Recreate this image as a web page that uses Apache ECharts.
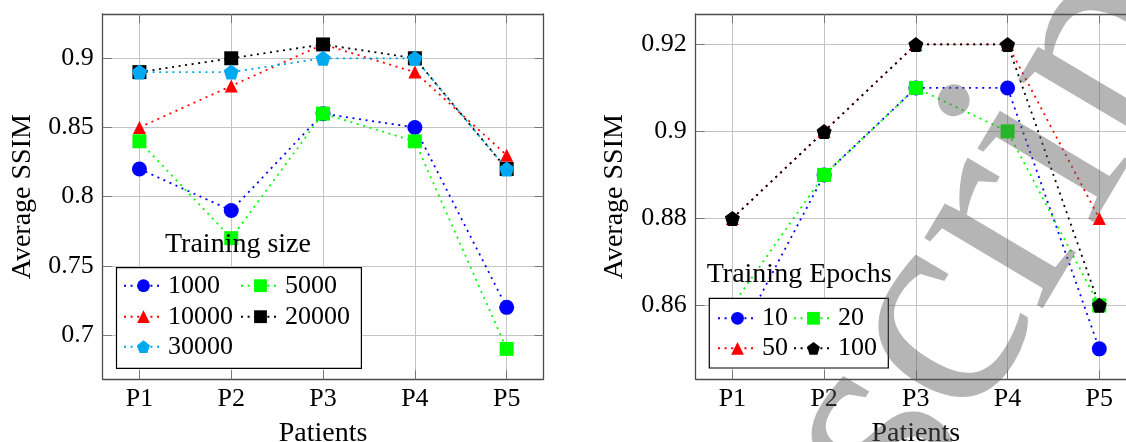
<!DOCTYPE html>
<html>
<head>
<meta charset="utf-8">
<script src="https://cdn.jsdelivr.net/npm/echarts@6/dist/echarts.min.js"></script>
<style>
  html, body { margin: 0; padding: 0; background: #fff; }
  #chart { width: 1126px; height: 442px; }
</style>
</head>
<body>
<div id="chart"></div>
<script>
var patients = ['P1', 'P2', 'P3', 'P4', 'P5'];

// left panel: training size
var size1000 = [0.82, 0.79, 0.86, 0.85, 0.72];
var size5000 = [0.84, 0.77, 0.86, 0.84, 0.69];
var size10000 = [0.85, 0.88, 0.91, 0.89, 0.83];
var size20000 = [0.89, 0.90, 0.91, 0.90, 0.82];
var size30000 = [0.89, 0.89, 0.90, 0.90, 0.82];
var sizeTicks = [0.7, 0.75, 0.8, 0.85, 0.9];

// right panel: training epochs
var epoch10 = [0.85, 0.89, 0.91, 0.91, 0.85];
var epoch20 = [0.86, 0.89, 0.91, 0.90, 0.86];
var epoch50 = [0.88, 0.90, 0.92, 0.92, 0.88];
var epoch100 = [0.88, 0.90, 0.92, 0.92, 0.86];
var epochTicks = [0.86, 0.88, 0.9, 0.92];

var FONT = '"Liberation Serif", "DejaVu Serif", serif';
var FRAME = '#4d4d4d';
var GRIDC = '#c4c4c4';
var PENTAGON = 'path://M0,-1L0.951,-0.309L0.588,0.809L-0.588,0.809L-0.951,-0.309Z';
var xTicks = patients.map(function(p, i) { return i + 1; });

function toPoints(vals) {
  return vals.map(function(v, i) { return [i + 1, v]; });
}

function xAxes(gi) {
  var base = {
    type: 'value', gridIndex: gi, min: 0.6, max: 5.4,
    axisLine: { show: true, lineStyle: { color: FRAME, width: 1.3 } },
    axisTick: { show: true, inside: true, length: 9, customValues: xTicks, lineStyle: { color: '#777' } }
  };
  var bottom = echarts.util.merge({
    position: 'bottom',
    name: 'Patients', nameLocation: 'middle', nameGap: 40,
    nameTextStyle: { fontFamily: FONT, fontSize: 28, color: '#000' },
    axisLabel: {
      customValues: xTicks, margin: 7, fontFamily: FONT, fontSize: 26, color: '#000',
      formatter: function(v) { return patients[Math.round(v) - 1]; }
    },
    splitLine: { show: true, lineStyle: { color: GRIDC, width: 1 } }
  }, base, true);
  var top = echarts.util.merge({
    position: 'top', axisLabel: { show: false }, splitLine: { show: false }
  }, base, true);
  return [bottom, top];
}

function yAxes(gi, min, max, ticks, gap) {
  var base = {
    type: 'value', gridIndex: gi, min: min, max: max,
    axisLine: { show: true, lineStyle: { color: FRAME, width: 1.3 } },
    axisTick: { show: true, inside: true, length: 9, customValues: ticks, lineStyle: { color: '#777' } }
  };
  var left = echarts.util.merge({
    position: 'left',
    name: 'Average SSIM', nameLocation: 'middle', nameGap: gap, nameRotate: 90,
    nameTextStyle: { fontFamily: FONT, fontSize: 28, color: '#000' },
    axisLabel: {
      customValues: ticks, margin: 9, fontFamily: FONT, fontSize: 26, color: '#000',
      formatter: function(v) { return String(+v.toFixed(2)); }
    },
    splitLine: { show: true, lineStyle: { color: GRIDC, width: 1 } }
  }, base, true);
  var right = echarts.util.merge({
    position: 'right', axisLabel: { show: false }, splitLine: { show: false }
  }, base, true);
  return [left, right];
}

function line(name, vals, color, symbol, size, gi) {
  return {
    name: name, type: 'line', xAxisIndex: gi * 2, yAxisIndex: gi * 2,
    data: toPoints(vals),
    symbol: symbol, symbolSize: size, showAllSymbol: true,
    lineStyle: { color: color, width: 1.8, type: [2, 4.6] },
    itemStyle: { color: color },
    emphasis: { disabled: true },
    animation: false
  };
}

function legendItem(name, left, top) {
  return {
    data: [name], left: left, top: top, padding: 0,
    itemWidth: 39, itemHeight: 16, itemGap: 0,
    selectedMode: false, z: 20,
    textStyle: { fontFamily: FONT, fontSize: 26, color: '#000', lineHeight: 26 }
  };
}

var chart = echarts.init(document.getElementById('chart'));

chart.setOption({
  backgroundColor: '#fff',
  animation: false,
  grid: [
    { left: 102.7, top: 14, width: 440.7, height: 365.3, outerBoundsMode: 'none', containLabel: false },
    { left: 695.7, top: 14, width: 440.3, height: 365.3, outerBoundsMode: 'none', containLabel: false }
  ],
  xAxis: xAxes(0).concat(xAxes(1)),
  yAxis: yAxes(0, 0.668, 0.932, sizeTicks, 66).concat(yAxes(1, 0.843, 0.927, epochTicks, 67)),
  legend: [
    legendItem('1000', 123, 272.7),
    legendItem('5000', 240, 272.7),
    legendItem('10000', 123, 303.7),
    legendItem('20000', 240, 303.7),
    legendItem('30000', 123, 333.7),
    legendItem('10', 717, 305.3),
    legendItem('20', 793, 305.3),
    legendItem('50', 717, 335.3),
    legendItem('100', 793, 335.3)
  ],
  graphic: [
    { type: 'rect', z: 10, silent: true,
      shape: { x: 116.5, y: 267.7, width: 244.9, height: 100.6 },
      style: { fill: '#fff', stroke: '#000', lineWidth: 1.2 } },
    { type: 'rect', z: 10, silent: true,
      shape: { x: 709.3, y: 298.3, width: 179, height: 69.7 },
      style: { fill: '#fff', stroke: '#000', lineWidth: 1.2 } },
    { type: 'text', z: 20, silent: true, x: 165, y: 245,
      style: { text: 'Training size', fontFamily: FONT, fontSize: 28, fill: '#000', verticalAlign: 'middle' } },
    { type: 'text', z: 20, silent: true, x: 706.7, y: 275,
      style: { text: 'Training Epochs', fontFamily: FONT, fontSize: 28, fill: '#000', verticalAlign: 'middle' } },
    // gray watermark lying over the right panel
    { type: 'text', z: 100, silent: true, x: 487, y: 1090, rotation: 1.035,
      style: { text: 'Manuscript', fontFamily: FONT, fontSize: 300, fill: 'rgba(90,90,90,0.45)', verticalAlign: 'middle' } }
  ],
  series: [
    line('1000', size1000, '#0000ff', 'circle', 15, 0),
    line('5000', size5000, '#00ff00', 'rect', 14, 0),
    line('10000', size10000, '#ff0000', 'triangle', 13, 0),
    line('20000', size20000, '#000000', 'rect', 14, 0),
    line('30000', size30000, '#00a8f0', PENTAGON, 15, 0),
    line('10', epoch10, '#0000ff', 'circle', 15, 1),
    line('20', epoch20, '#00ff00', 'rect', 14, 1),
    line('50', epoch50, '#ff0000', 'triangle', 13, 1),
    line('100', epoch100, '#000000', PENTAGON, 15, 1)
  ]
});
</script>
</body>
</html>
